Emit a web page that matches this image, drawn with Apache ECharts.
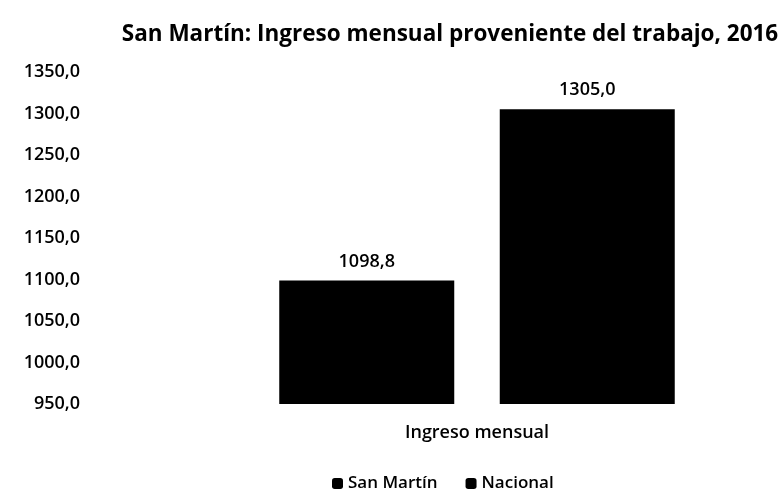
<!DOCTYPE html>
<html><head><meta charset="utf-8">
<script src="https://cdn.jsdelivr.net/npm/echarts@6/dist/echarts.min.js"></script>
<style>html,body{margin:0;padding:0;background:#fff}#c{width:782px;height:491px}</style>
</head><body><div id="c"></div>
<script>
const titleText = 'San Martín: Ingreso mensual proveniente del trabajo, 2016';
const categories = ['Ingreso mensual'];
const seriesNames = ['San Martín', 'Nacional'];
const sanMartin = [1098.8];
const nacional = [1305.0];
const yMin = 950, yMax = 1350, yStep = 50;

const fmt = v => v.toFixed(1).replace('.', ',');
const font = '"Open Sans", "Noto Sans", sans-serif';
const chart = echarts.init(document.getElementById('c'));
chart.setOption({
  animation: false,
  textStyle: { fontFamily: font, color: '#000' },
  title: {
    text: titleText, left: 445, top: 18, textAlign: 'center',
    textStyle: { fontFamily: font, fontSize: 22.5, fontWeight: 'bold', color: '#000' }
  },
  legend: {
    top: 470, left: 327, itemWidth: 11, itemHeight: 11, itemGap: 28,
    icon: 'roundRect',
    textStyle: { fontFamily: font, fontSize: 17, fontWeight: 600, color: '#000' },
    data: seriesNames
  },
  grid: { left: 175, right: 3, top: 72, bottom: 87 },
  xAxis: {
    type: 'category', data: categories,
    axisLine: { show: false }, axisTick: { show: false },
    axisLabel: { margin: 20, fontSize: 18, fontWeight: 600, color: '#000', fontFamily: font }
  },
  yAxis: {
    type: 'value', min: yMin, max: yMax, interval: yStep,
    splitLine: { show: false }, axisLine: { show: false }, axisTick: { show: false },
    axisLabel: { margin: 95, fontSize: 18, fontWeight: 600, color: '#000', fontFamily: font, formatter: fmt }
  },
  series: [
    { name: seriesNames[0], type: 'bar', data: sanMartin, barWidth: 175, barGap: '26%',
      itemStyle: { color: '#000' },
      label: { show: true, position: 'top', distance: 10, formatter: p => fmt(p.value), fontSize: 18, fontWeight: 600, color: '#000', fontFamily: font } },
    { name: seriesNames[1], type: 'bar', data: nacional, barWidth: 175,
      itemStyle: { color: '#000' },
      label: { show: true, position: 'top', distance: 10, formatter: p => fmt(p.value), fontSize: 18, fontWeight: 600, color: '#000', fontFamily: font } }
  ]
});
</script></body></html>
